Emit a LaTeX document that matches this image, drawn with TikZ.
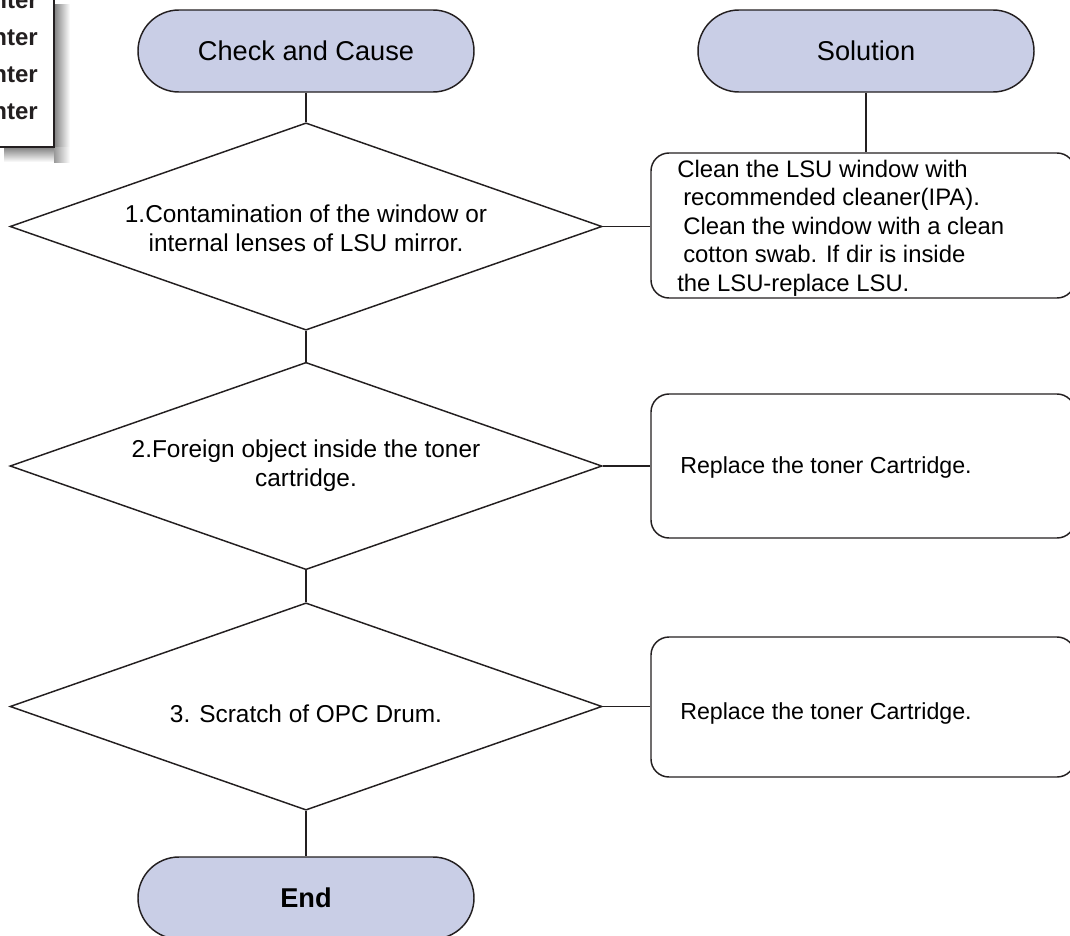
\documentclass[tikz,border=0pt]{standalone}
\usepackage{fontspec}
\setmainfont{Liberation Sans}
\usetikzlibrary{shapes.geometric,shapes.misc}
\definecolor{pillfill}{RGB}{201,206,230}
\definecolor{ink}{RGB}{35,31,32}
\tikzset{
  pill/.style={rounded rectangle, draw=ink, line width=1.1pt, fill=pillfill,
    minimum width=252pt, minimum height=61.5pt, inner sep=0pt, font=\fontsize{20.4}{24}\selectfont},
  dia/.style={diamond, draw=ink, line width=1.1pt, minimum width=444pt, minimum height=155.5pt, inner sep=0pt},
  solbox/.style={draw=ink, line width=1.1pt, rounded corners=13.5pt, minimum width=318pt, inner sep=0pt},
  txt/.style={font=\fontsize{18.3}{22}\selectfont, align=center, inner sep=0pt},
  ltxt/.style={font=\fontsize{17.9}{21.4}\selectfont, align=left, inner sep=0pt, anchor=west},
  rtxt/.style={font=\fontsize{17.4}{21}\selectfont, inner sep=0pt, anchor=west},
  conn/.style={draw=ink, line width=1.1pt},
  corner/.style={font=\fontsize{18}{20}\selectfont\bfseries, anchor=east, inner sep=0pt, text=ink}
}
\begin{document}
\begin{tikzpicture}[x=0.75pt,y=-0.75pt]
\useasboundingbox (0,0) rectangle (1070,935);
\clip (0,0) rectangle (1070,935);
% top-left cut-off box with shadow
\shade[left color=black!50, right color=white] (54,4) rectangle (70,162);
\shade[top color=black!50, bottom color=white] (4,147) rectangle (54,162);
\shade[left color=black!40, right color=white] (54,147) rectangle (70,162);
\draw[draw=ink, line width=0.8pt, fill=white] (-10,-10) rectangle (54,147);
\node[corner] (c1) at (38,1) {nter};
\node[corner] (c2) at (38,38) {nter};
\node[corner] (c3) at (38,75) {nter};
\node[corner] (c4) at (38,112) {nter};
% headers
\node[pill] (cc) at (306,51) {Check and Cause};
\node[pill] (sol) at (866,51) {Solution};
% diamonds
\node[dia] (d1) at (306,226.5) {};
\node[txt] (t1) at (306,228) {1.Contamination of the window or\\internal lenses of LSU mirror.};
\node[dia] (d2) at (306,466) {};
\node[txt] (t2) at (306,466) {2.Foreign object inside the toner\\cartridge.};
\node[dia] (d3) at (306,706.5) {};
\node[txt] (t3) at (306,714) {3. Scratch of OPC Drum.};
% solution boxes
\node[solbox, minimum height=108.75pt] (b1) at (863,225.5) {};
\node[ltxt] (s1) at (677,228) {Clean the LSU window with\\\hspace*{4.5pt}recommended cleaner(IPA).\\\hspace*{4.5pt}Clean the window with a clean\\\hspace*{4.5pt}cotton swab. If dir is inside\\the LSU-replace LSU.};
\node[solbox, minimum height=108pt] (b2) at (863,466) {};
\node[rtxt] (s2) at (680,467) {Replace the toner Cartridge.};
\node[solbox, minimum height=105pt] (b3) at (863,707) {};
\node[rtxt] (s3) at (680,713) {Replace the toner Cartridge.};
% end
\node[pill, font=\fontsize{20.4}{24}\selectfont\bfseries] (en) at (306,898) {End};
% connectors
\draw[conn] (cc.south) -- (d1.north);
\draw[conn] (d1.south) -- (d2.north);
\draw[conn] (d2.south) -- (d3.north);
\draw[conn] (d3.south) -- (en.north);
\draw[conn] (d1.east) -- (d1.east -| b1.west);
\draw[conn] (d2.east) -- (d2.east -| b2.west);
\draw[conn] (d3.east) -- (d3.east -| b3.west);
\draw[conn] (sol.south) -- (sol.south |- b1.north);
\end{tikzpicture}
\end{document}
